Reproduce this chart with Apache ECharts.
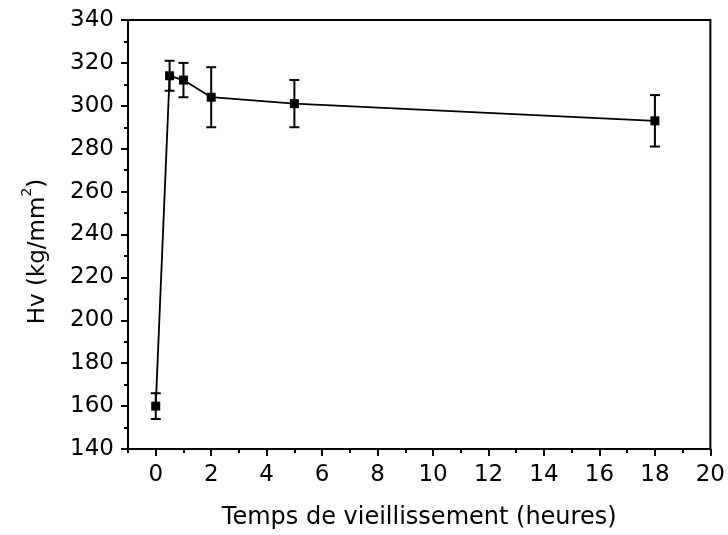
<!DOCTYPE html>
<html>
<head>
<meta charset="utf-8">
<script src="https://cdn.jsdelivr.net/npm/echarts@6/dist/echarts.min.js"></script>
<style>html,body{margin:0;padding:0;background:#fff;}#c{width:728px;height:535px;}</style>
</head>
<body>
<div id="c"></div>
<script>
const xValues = [0, 0.5, 1, 2, 5, 18];
const hvValues = [160, 314, 312, 304, 301, 293];
const errValues = [6, 7, 8, 14, 11, 12];
const xMajorTicks = [0, 2, 4, 6, 8, 10, 12, 14, 16, 18, 20];
const xMinorTicks = [-1, 1, 3, 5, 7, 9, 11, 13, 15, 17, 19];
const xTitle = 'Temps de vieillissement (heures)';
const yTitleMain = 'Hv (kg/mm';
const yTitleSup = '2';
const yTitleEnd = ')';

const font = 'DejaVu Sans, sans-serif';
const chart = echarts.init(document.getElementById('c'), null, {renderer: 'canvas'});
const pts = xValues.map((x, i) => [x, hvValues[i]]);
const errs = xValues.map((x, i) => [x, hvValues[i] - errValues[i], hvValues[i] + errValues[i]]);

chart.setOption({
  animation: false,
  backgroundColor: '#fff',
  grid: {left: 128, right: 17, top: 20, bottom: 82, show: true, borderColor: '#000', borderWidth: 2, backgroundColor: 'transparent'},
  xAxis: [{
    type: 'value', min: -1, max: 20, interval: 1,
    axisLine: {show: true, onZero: false, lineStyle: {color: '#000', width: 2}},
    axisTick: {show: true, customValues: xMajorTicks, length: 7, lineStyle: {color: '#000', width: 2}},
    axisLabel: {customValues: xMajorTicks, color: '#000', fontFamily: font, fontSize: 23, margin: 15},
    splitLine: {show: false},
    name: xTitle, nameLocation: 'middle', nameGap: 57,
    nameTextStyle: {color: '#000', fontFamily: font, fontSize: 24}
  }, {
    type: 'value', min: -1, max: 20, interval: 1, position: 'bottom',
    axisLine: {show: false, onZero: false},
    axisTick: {show: true, customValues: xMinorTicks, length: 4, lineStyle: {color: '#000', width: 2}},
    axisLabel: {show: false},
    splitLine: {show: false}
  }],
  yAxis: {
    type: 'value', min: 140, max: 340, interval: 20,
    axisLine: {show: true, onZero: false, lineStyle: {color: '#000', width: 2}},
    axisTick: {show: true, length: 7, lineStyle: {color: '#000', width: 2}},
    minorTick: {show: true, splitNumber: 2, length: 4, lineStyle: {color: '#000', width: 2}},
    axisLabel: {color: '#000', fontFamily: font, fontSize: 23, margin: 14},
    splitLine: {show: false},
    name: '{n|' + yTitleMain + '}{s|' + yTitleSup + '}{n|' + yTitleEnd + '}',
    nameLocation: 'middle', nameGap: 78, nameRotate: 90,
    nameTextStyle: {
      color: '#000', fontFamily: font, fontSize: 23,
      padding: [0, 34, 0, 0],
      rich: {
        n: {fontFamily: font, fontSize: 23, color: '#000', lineHeight: 30, verticalAlign: 'bottom'},
        s: {fontFamily: font, fontSize: 14, color: '#000', lineHeight: 30, verticalAlign: 'top'}
      }
    }
  },
  series: [{
    type: 'custom',
    data: errs,
    z: 3,
    renderItem: function (params, api) {
      const x = api.value(0);
      const lo = api.coord([x, api.value(1)]);
      const hi = api.coord([x, api.value(2)]);
      const w = 5;
      const st = {stroke: '#000', lineWidth: 2};
      return {type: 'group', children: [
        {type: 'line', shape: {x1: lo[0], y1: lo[1], x2: hi[0], y2: hi[1]}, style: st},
        {type: 'line', shape: {x1: lo[0] - w, y1: lo[1], x2: lo[0] + w, y2: lo[1]}, style: st},
        {type: 'line', shape: {x1: hi[0] - w, y1: hi[1], x2: hi[0] + w, y2: hi[1]}, style: st}
      ]};
    }
  }, {
    type: 'line',
    data: pts,
    z: 4,
    symbol: 'rect', symbolSize: 9,
    lineStyle: {color: '#000', width: 1.8},
    itemStyle: {color: '#000'}
  }]
});
</script>
</body>
</html>
